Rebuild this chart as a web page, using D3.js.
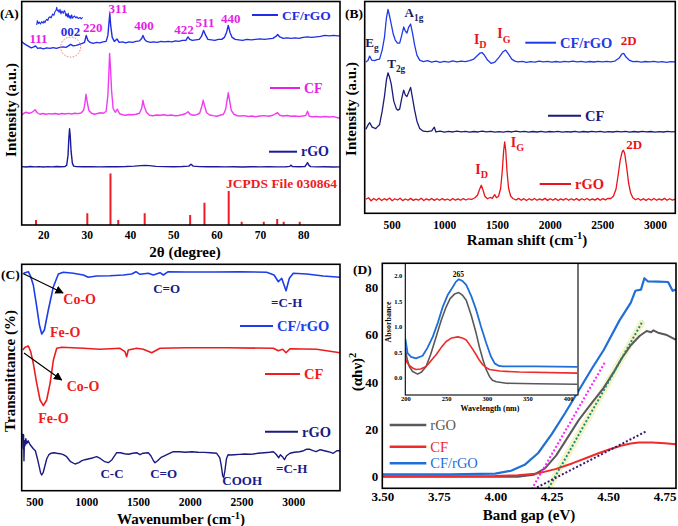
<!DOCTYPE html>
<html>
<head>
<meta charset="utf-8">
<script src="https://cdn.jsdelivr.net/npm/d3@7"></script>
<style>
  body { margin: 0; background: #fff; }
  svg { display: block; }
  text { font-family: 'Liberation Serif', 'Times New Roman', serif; font-weight: bold; }
</style>
</head>
<body>
<svg id="fig" width="678" height="526"></svg>
<script>
// ---------- (A) XRD ----------
const xrdCFrGO = [[15,184],[15.5,182],[16,180.5],[16.6,179],[17.2,177.5],[17.8,178.5],[18.2,179.5],[18.7,177],[19.3,177.5],[20,176.5],[20.8,177.5],[21.5,177],[22.3,177.8],[23,177],[23.8,178],[24.5,178.5],[25.2,178],[25.8,179.5],[26.3,181],[26.9,179.5],[27.6,180],[28.3,181],[29,182],[29.5,183],[29.9,190],[30.3,185],[30.8,183],[31.5,182],[32.3,183],[33,182.5],[33.8,183.5],[34.5,184],[34.9,190],[35.2,205],[35.35,212],[35.55,200],[35.9,188],[36.4,184],[37,186.5],[37.5,183],[38.3,183.5],[39,182.5],[39.8,183.5],[40.6,183],[41.4,184],[42.2,184.5],[42.7,187],[43,190],[43.4,186],[43.9,184],[44.7,183],[45.5,183.5],[46.3,183],[47.2,184],[48,183.5],[48.8,184],[49.7,183.5],[50.5,184.5],[51.3,184],[52.1,185],[52.9,185],[53.4,188.5],[53.8,186],[54.4,185],[55.2,185.5],[56,186],[56.5,189],[57,195],[57.5,190],[58,186],[58.8,185.5],[59.6,185],[60.4,186],[61.2,186],[61.8,188],[62.3,193],[62.7,200],[63.1,193],[63.6,188],[64.3,186],[65.1,185.5],[66,185],[67,186],[68,185.5],[69,186],[70,186.5],[71,186],[72,186.5],[73,187],[73.7,189],[74.1,191],[74.6,188.5],[75.4,187],[76.3,187.5],[77.2,187],[78.1,187.5],[79,187],[80,188],[81,188.5],[82,188],[83,188.5],[84,189],[85,190],[86,189.5],[87,190],[88,189.5],[88.5,189.5]];
const xrdCF = [[15,110],[15.5,112],[16,113],[16.6,112],[17.2,112.5],[17.7,114],[18.1,115.5],[18.6,112.5],[19.2,111],[19.9,111.8],[20.6,111],[21.3,111.6],[22,111.2],[22.8,111.8],[23.5,111],[24.3,111.7],[25,111.2],[25.8,111.9],[26.5,111.3],[27.3,112],[28,111.6],[28.7,112.2],[29.3,115],[29.6,122],[29.85,131],[30.1,124],[30.5,115],[31.1,112],[31.8,111],[32.5,111.8],[33.2,112.5],[33.9,112],[34.5,114],[34.9,130],[35.15,155],[35.3,172],[35.5,158],[35.75,135],[36.1,117],[36.6,113],[37.1,116],[37.6,111.5],[38.3,110.5],[39,110],[39.8,110.8],[40.6,110.5],[41.4,111],[42.2,112],[42.7,117],[43,125],[43.3,119],[43.8,113],[44.5,110],[45.3,109.5],[46.1,110.2],[47,110],[47.8,110.5],[48.7,109.8],[49.5,110.3],[50.4,109.5],[51.2,109.8],[52,110.5],[52.8,111.5],[53.4,113.5],[53.9,111],[54.6,110],[55.4,110.5],[56.1,112],[56.6,119],[56.9,125],[57.2,120],[57.7,112.5],[58.4,110.3],[59.2,109.6],[60,109],[60.8,110],[61.6,111],[62.1,116],[62.45,126],[62.7,132.5],[63,125],[63.4,115],[64,111],[64.8,109.5],[65.6,109.3],[66.4,109.6],[67.3,108.8],[68.2,109.2],[69,108.5],[70,109.2],[71,109.6],[72,109],[73,110],[73.6,111.5],[74.1,112.5],[74.6,110],[75.4,109.2],[76.3,109.8],[77.2,109],[78,109.3],[79,108.8],[79.9,109.2],[80.6,109.8],[81,114],[81.4,109],[82,108.5],[83,108.8],[84,108.2],[85,108.8],[86,108.3],[87,108.6],[88,107.5],[88.5,107]];
const xrdRGO = [[15,58.5],[16,58.2],[17,58.6],[18,58.3],[19,58.5],[20,58.2],[21,58.5],[22,58.3],[23,58.6],[24,58.4],[25,58.6],[25.4,60],[25.7,70],[25.9,88],[26.05,96.5],[26.2,90],[26.4,74],[26.7,62],[27,59],[27.6,58.5],[29,58.4],[31,58.5],[33,58.3],[35,58.5],[37,58.4],[39,58.6],[41,59],[42.5,59.5],[43.5,59.8],[44.5,59.5],[46,58.8],[48,58.5],[50,58.4],[52,58.6],[53.6,59],[54.1,60.8],[54.6,59],[56,58.5],[58,58.4],[60,58.5],[62,58.3],[64,58.4],[66,58.2],[68,58.4],[70,58.3],[72,58.5],[74,58.3],[76,58.4],[76.9,58.8],[77.2,60],[77.5,58.7],[79,58.4],[80.4,58.6],[80.8,61],[81,62.5],[81.3,60],[81.7,58.5],[83,58.3],[85,58.4],[87,58.2],[88.5,58.3]];
const jcpdsPos = [18.3, 30.15, 35.5, 37.3, 43.4, 53.9, 57.2, 62.8, 65.8, 70.9, 74.0, 75.5, 79.2];
const jcpdsInt = [5, 11.7, 51.7, 5, 11.7, 10, 22.3, 34, 3.3, 3.3, 6, 3.3, 3.3];
const xrdZoom = [[23.52,0],[23.59,2.4],[23.7,0.8],[23.8,1.6],[23.92,0.6],[24.05,1.85],[24.2,1.0],[24.3,2.2],[24.4,1.3],[24.5,2.6],[24.58,3.2],[24.7,2.5],[24.8,4.0],[24.94,4.6],[25.05,3.9],[25.22,6.1],[25.35,5.4],[25.47,7.4],[25.58,8.2],[25.65,9.8],[25.73,7.9],[25.82,8.3],[25.9,7.0],[26.0,8.7],[26.1,6.2],[26.2,7.8],[26.35,6.5],[26.45,8.0],[26.53,7.4],[26.62,5.0],[26.71,6.2],[26.8,4.4],[26.88,6.5],[26.97,3.9],[27.06,5.2],[27.15,3.5],[27.24,5.6],[27.33,3.8],[27.41,4.3],[27.55,5.0],[27.7,3.9],[27.78,4.6],[27.95,3.6],[28.13,4.2],[28.25,3.4],[28.41,4.3]];
const xrdTicks = [20, 30, 40, 50, 60, 70, 80];

// ---------- (B) Raman ----------
const ramanCFrGO = [[255,151],[275,152.5],[291,157],[310,153],[338,152.5],[360,153.5],[385,154],[410,163],[432,176],[450,195],[465,203.5],[480,197],[496,189],[515,179],[534,173],[555,170],[576,170],[596,178],[614,186],[630,182],[645,180],[662,186],[680,189],[698,180],[718,168],[740,158],[766,153],[800,151.5],[840,152.5],[880,151],[920,152],[960,150.8],[1000,151.8],[1040,151],[1080,152.2],[1120,151.3],[1160,152],[1200,151.5],[1240,152.5],[1280,154],[1310,157],[1340,160],[1357,160.5],[1380,158],[1410,153],[1446,149.7],[1480,151],[1520,156],[1555,161],[1582,163],[1610,159],[1640,154],[1670,152],[1699,151.3],[1740,151.8],[1780,150.8],[1820,151.5],[1860,151],[1900,152],[1940,151.2],[1980,151.8],[2020,151],[2060,151.6],[2100,150.9],[2140,151.7],[2180,151.2],[2220,152],[2260,151.3],[2300,151.8],[2340,151],[2380,151.6],[2420,151.1],[2460,151.8],[2500,151.2],[2540,151.7],[2580,151.3],[2620,152],[2660,155],[2685,159],[2703,159.7],[2725,156],[2755,153],[2790,151.5],[2830,151.8],[2870,151],[2910,151.6],[2950,151.2],[2990,151.8],[3030,151],[3070,151.5],[3110,150.8],[3150,151.5],[3193,151.3]];
const ramanCF = [[255,84],[275,88],[291,90.5],[315,86],[349,84.5],[370,87],[385,88.5],[410,102],[432,117],[450,133],[465,140.3],[480,136],[496,129],[520,112],[544,104.5],[560,103],[576,104],[596,115],[614,123],[630,118],[645,116.5],[662,121],[680,125.7],[698,115],[718,103],[740,92],[766,84.7],[800,82],[840,81.5],[880,82.3],[905,86],[920,81.2],[960,82],[1000,81],[1040,81.8],[1080,81.2],[1120,82],[1160,81.3],[1200,81.9],[1240,81],[1280,81.7],[1320,81.2],[1360,82],[1400,81.3],[1440,81.8],[1480,81],[1520,81.6],[1560,81.1],[1600,81.8],[1640,81.2],[1680,82],[1720,81.3],[1760,81.8],[1800,81],[1840,81.7],[1880,81.2],[1920,81.9],[1960,81.1],[2000,81.7],[2040,81.3],[2080,81.9],[2120,81],[2160,81.6],[2200,81.2],[2240,81.8],[2280,81.1],[2320,81.7],[2360,81.2],[2400,81.9],[2440,81.3],[2480,81.8],[2520,81],[2560,81.6],[2600,81.2],[2640,81.9],[2680,81.3],[2720,81.8],[2760,81.1],[2800,81.7],[2840,81.2],[2880,81.9],[2920,81.3],[2960,81.7],[3000,81],[3040,81.6],[3080,81.2],[3120,81.8],[3160,81.4],[3193,81.6]];
const ramanRGO = [[255,14],[280,15.5],[305,12.5],[330,14.8],[355,13],[380,15],[405,12.8],[430,14.6],[455,13.2],[480,15.2],[505,12.6],[530,14.5],[555,13.3],[580,15],[605,12.7],[630,14.3],[655,13],[680,14.9],[705,12.9],[730,14.2],[755,13.1],[780,15],[805,12.8],[830,14.4],[855,13.2],[880,14.8],[905,12.9],[930,14.5],[955,13],[980,14.7],[1005,13.2],[1030,14.3],[1055,12.8],[1080,14.8],[1105,13.1],[1130,14.4],[1155,13],[1180,14.7],[1205,13.3],[1230,14.5],[1260,13.8],[1290,15.5],[1315,18],[1335,24],[1351,28],[1365,24],[1385,17],[1410,14.5],[1435,15.8],[1455,15],[1478,18.7],[1495,15.5],[1515,17],[1535,25],[1550,42],[1563,62],[1573,71.3],[1583,63],[1595,42],[1610,25],[1630,17],[1655,14.5],[1680,13.3],[1705,14.9],[1730,13],[1755,14.6],[1780,12.8],[1805,14.5],[1830,13.1],[1855,14.8],[1880,13],[1905,14.4],[1930,13.2],[1955,14.9],[1980,12.9],[2005,14.5],[2030,13.1],[2055,14.7],[2080,12.8],[2105,14.4],[2130,13.2],[2155,14.8],[2180,13],[2205,14.5],[2230,13.1],[2255,14.7],[2280,12.9],[2305,14.5],[2330,13.3],[2355,14.8],[2380,13],[2405,14.4],[2430,13.2],[2455,14.9],[2480,13],[2505,14.6],[2530,13.4],[2555,15],[2580,14.8],[2605,17],[2630,24],[2650,38],[2670,53],[2688,61],[2700,63],[2712,60],[2730,47],[2750,30],[2770,20],[2790,15.5],[2815,13.5],[2840,14.8],[2865,13],[2890,14.6],[2915,12.9],[2940,14.5],[2965,13.1],[2990,14.8],[3015,13],[3040,14.4],[3065,13.2],[3090,14.9],[3115,13],[3140,14.5],[3165,13.2],[3193,14.2]];
const ramanTicks = [500, 1000, 1500, 2000, 2500, 3000];

// ---------- (C) FTIR ----------
const ftirCFrGO = [[388,216.7],[410,218],[442,219],[465,214],[490,205.7],[523,184],[549,165.7],[571,156.7],[597,160.7],[635,180.7],[684,204],[732,216.7],[780,218.4],[877,217.4],[973,215.7],[1021,213.4],[1102,214.7],[1230,215],[1359,215.7],[1440,216.7],[1481,219],[1520,216.4],[1600,217.4],[1649,215.7],[1713,218],[1745,215.7],[1793,219],[1970,218.7],[2228,218.7],[2485,219],[2743,218.4],[2814,215.7],[2856,209],[2888,212.4],[2930,200],[2962,212.4],[3000,217.4],[3129,216.7],[3290,214.7],[3451,213.4]];
const ftirCF = [[388,140.7],[410,143.4],[442,144.7],[465,139],[490,127.4],[523,107.4],[555,90.7],[587,85],[619,90.7],[652,107.4],[684,130.7],[716,142.4],[764,143.4],[973,142.4],[1134,141.4],[1327,142.4],[1375,139],[1391,134],[1407,140.7],[1488,142.4],[1552,141.4],[1633,138],[1713,142.4],[1970,143],[2356,143],[2807,142.4],[2856,140],[2898,141.4],[2930,138],[2968,142],[3225,141.4],[3451,138]];
const ftirRGO = [[388,57],[392,42],[396,56],[400,30],[404,50],[410,45],[418,52],[426,47],[440,50],[460,46],[475,44],[490,42],[510,40],[530,32],[545,25],[560,18],[571,15.7],[585,18],[600,24],[620,32],[640,36],[660,37.4],[690,38],[716,37.5],[750,37],[780,36],[812,34],[850,29],[893,26.7],[930,28],[960,30],[989,31],[1030,32],[1070,33],[1102,34],[1140,32],[1180,29],[1214,28],[1250,31],[1295,38],[1330,38],[1370,37],[1410,36.5],[1450,37.5],[1488,38],[1520,36],[1550,37.5],[1600,38],[1625,35],[1650,30],[1665,28],[1690,30],[1720,33],[1760,35],[1800,37],[1842,39],[1900,39],[1960,38.5],[2020,39],[2080,38.5],[2140,38.3],[2200,38],[2260,37.4],[2290,33],[2305,25],[2318,15],[2328,13],[2340,20],[2355,32],[2370,36],[2389,35.7],[2430,36],[2480,36.3],[2530,36.7],[2580,36.5],[2614,36.7],[2660,37.5],[2720,38],[2770,38.5],[2807,39],[2830,37],[2845,35],[2860,33],[2875,36],[2895,34],[2915,31],[2935,35],[2968,37.4],[3010,38.5],[3060,39],[3100,40],[3130,41.5],[3161,41.4],[3190,40],[3220,39],[3260,41],[3300,40],[3340,39],[3386,37.4],[3420,40],[3451,40]];
const ftirTicks = [500, 1000, 1500, 2000, 2500, 3000];

// ---------- (D) Tauc plot + UV-vis inset ----------
const taucCFrGO = [[3.5,1.0],[3.8,1.0],[4.0,1.3],[4.07,2.5],[4.13,5],[4.19,10],[4.25,18],[4.31,27],[4.37,36.5],[4.43,46],[4.48,53.5],[4.55,66],[4.6,73.5],[4.62,78.5],[4.645,79],[4.66,83.8],[4.675,82.5],[4.72,82.4],[4.765,82.2],[4.785,78.5],[4.8,79]];
const taucRGO = [[3.5,0],[4.1,0],[4.17,0.8],[4.22,3.5],[4.27,9],[4.32,16.5],[4.37,24],[4.43,31.5],[4.48,37.5],[4.53,45],[4.56,50],[4.6,55.5],[4.64,59.5],[4.67,61.5],[4.69,61],[4.7,61.8],[4.72,60.8],[4.76,59.8],[4.8,57.8]];
const taucCF = [[3.5,0.2],[4.0,0.3],[4.1,0.6],[4.19,1.4],[4.27,3.3],[4.34,5.6],[4.4,7.8],[4.457,9.9],[4.51,11.7],[4.56,13.2],[4.6,14],[4.635,14.4],[4.694,14.4],[4.75,14.1],[4.8,13.7]];
const fitCFrGO = [[4.161,-5.3],[4.487,48.6]];
const fitRGO = [[4.236,-4.9],[4.653,65.8]];
const fitCF = [[4.169,-5.3],[4.665,19]];
const taucXTicks = [3.5, 3.75, 4.0, 4.25, 4.5, 4.75];
const taucYTicks = [0, 20, 40, 60, 80];
const uvCFrGO = [[200,0.77],[202.8,0.48],[207,0.41],[213,0.38],[221.3,0.43],[227,0.58],[233.7,0.80],[240,1.08],[246,1.39],[252,1.62],[258.3,1.78],[262,1.88],[265.7,1.93],[270,1.9],[274.8,1.82],[281,1.6],[287,1.33],[293,1.0],[299.5,0.67],[305,0.42],[309.7,0.28],[315,0.23],[320,0.22],[360,0.22],[411,0.21]];
const uvRGO = [[200,0.58],[202,0.38],[204.9,0.22],[209,0.12],[215.2,0.07],[220,0.11],[225.5,0.22],[231,0.45],[237.8,0.80],[244,1.12],[250.2,1.39],[255,1.55],[260.4,1.64],[265.7,1.67],[270,1.62],[274.8,1.52],[281,1.22],[287,0.87],[291,0.6],[295.3,0.35],[299,0.17],[303.5,0.02],[307,-0.05],[311.7,-0.08],[324,-0.11],[360,-0.12],[411,-0.13]];
const uvCF = [[200,0.38],[202,0.3],[204.9,0.24],[209,0.19],[213,0.16],[219,0.17],[225.5,0.22],[231,0.32],[237.8,0.45],[244,0.59],[250.2,0.71],[257,0.78],[264.5,0.80],[270,0.78],[274.8,0.74],[281,0.6],[287,0.45],[291,0.34],[295.3,0.25],[299,0.2],[303.5,0.16],[315.8,0.13],[340,0.11],[411,0.09]];
const uvXTicks = [200, 250, 300, 350, 400];
const uvYTicks = [0, 0.5, 1.0, 1.5, 2.0];

const svg = d3.select('#fig');
svg.append('rect').attr('width', 678).attr('height', 526).attr('fill', '#fff');

const defs = svg.append('defs');
defs.append('marker').attr('id', 'arrow').attr('viewBox', '0 0 10 10').attr('refX', 9).attr('refY', 5)
  .attr('markerWidth', 7).attr('markerHeight', 7).attr('orient', 'auto-start-reverse')
  .append('path').attr('d', 'M0,0 L10,5 L0,10 z').attr('fill', '#000');

let clipN = 0;
function panel(x, y) {
  const [x0, x1] = x.range(), [y1, y0] = y.range();
  const id = 'clip' + (clipN++);
  defs.append('clipPath').attr('id', id).append('rect')
    .attr('x', x0).attr('y', y0).attr('width', x1 - x0).attr('height', y1 - y0);
  const g = svg.append('g');
  const inner = g.append('g').attr('clip-path', `url(#${id})`);
  return {g, inner, box: () => g.append('rect').attr('x', x0).attr('y', y0)
    .attr('width', x1 - x0).attr('height', y1 - y0)
    .attr('fill', 'none').attr('stroke', '#000').attr('stroke-width', 1.6)};
}

function trace(g, x, y, data, color, w, dash) {
  g.append('path').datum(data)
    .attr('fill', 'none').attr('stroke', color).attr('stroke-width', w)
    .attr('stroke-linejoin', 'round').attr('stroke-dasharray', dash || null)
    .attr('d', d3.line().x(d => x(d[0])).y(d => y(d[1])));
}

function txt(g, x, y, s, size, color, anchor) {
  return g.append('text').attr('x', x).attr('y', y).attr('font-size', size)
    .attr('fill', color || '#000').attr('text-anchor', anchor || 'start').text(s);
}

// text with subscript, e.g. I_D
function sub(g, x, y, main, s, size, color) {
  const t = g.append('text').attr('x', x).attr('y', y).attr('font-size', size).attr('fill', color);
  t.append('tspan').text(main);
  t.append('tspan').attr('dy', size * 0.3).attr('font-size', size * 0.72).text(s);
  return t;
}

function legend(g, x0, x1, y, label, color, size, weight, w) {
  g.append('line').attr('x1', x0).attr('x2', x1).attr('y1', y).attr('y2', y)
    .attr('stroke', color).attr('stroke-width', w || 2);
  txt(g, x1 + 4, y + size * 0.34, label, size, color).style('font-weight', weight || 'bold');
}

function bottomAxis(g, x, y, ticks, fmt, pad, size) {
  const ax = g.append('g').attr('transform', `translate(0,${y.range()[0]})`)
    .call(d3.axisBottom(x).tickValues(ticks).tickFormat(fmt).tickSize(0).tickPadding(pad));
  ax.select('.domain').remove();
  ax.selectAll('text').attr('font-size', size).attr('fill', '#000')
    .attr('font-family', "'Liberation Serif', serif").attr('font-weight', 'bold');
  return ax;
}

// ================= (A) =================
{
  const x = d3.scaleLinear().domain([15, 88.5]).range([21.7, 340]);
  const y = d3.scaleLinear().domain([0, 224]).range([225, 1.5]);
  const p = panel(x, y);
  trace(p.inner, x, y, xrdCFrGO, '#1f2ee6', 1.4);
  trace(p.inner, x, y, xrdCF, '#f03cf0', 1.4);
  trace(p.inner, x, y, xrdRGO, '#1a1a9a', 1.4);
  p.inner.selectAll('.stick').data(jcpdsPos).join('line')
    .attr('x1', d => x(d)).attr('x2', d => x(d))
    .attr('y1', y(0)).attr('y2', (d, i) => y(jcpdsInt[i]))
    .attr('stroke', '#ee1c24').attr('stroke-width', 2);
  // zoomed 002 region
  const xi = d3.scaleLinear().domain([23.5, 28.5]).range([36.5, 83.5]);
  const yi = d3.scaleLinear().domain([0, 10]).range([25, 7]);
  trace(p.inner, xi, yi, xrdZoom, '#1f2ee6', 1.1);
  p.inner.append('circle').attr('cx', x(26.3)).attr('cy', y(178.3)).attr('r', 10)
    .attr('fill', 'none').attr('stroke', '#f07070').attr('stroke-width', 1)
    .attr('stroke-dasharray', '1.5,1.5');
  p.box();
  bottomAxis(p.g, x, y, xrdTicks, d3.format('d'), 6, 11.5);
  const mag = '#e61ee6';
  txt(p.g, 38.5, 42.5, '111', 13, mag, 'middle');
  txt(p.g, 70.5, 36, '002', 13, '#1f2ee6', 'middle');
  txt(p.g, 92.8, 32, '220', 13, mag, 'middle');
  txt(p.g, 118, 12.7, '311', 13, mag, 'middle');
  txt(p.g, 144, 30, '400', 13, mag, 'middle');
  txt(p.g, 184, 34, '422', 13, mag, 'middle');
  txt(p.g, 205, 27.3, '511', 13, mag, 'middle');
  txt(p.g, 230.8, 23.3, '440', 13, mag, 'middle');
  legend(p.g, 252, 278, 15, 'CF/rGO', '#1f2ee6', 13.5);
  legend(p.g, 270, 300, 88, 'CF', mag, 14);
  legend(p.g, 269, 297, 151.7, 'rGO', '#1a1a9a', 14);
  txt(p.g, 337, 188, 'JCPDS File 030864', 13.5, '#ee1c24', 'end');
  txt(p.g, 0, 18, '(A)', 13.5, '#000');
  txt(p.g, 185, 257, '2θ (degree)', 15, '#000', 'middle');
  txt(p.g, 0, 0, 'Intensity (a.u.)', 15, '#000', 'middle')
    .attr('transform', 'translate(16,110) rotate(-90)');
}

// ================= (B) =================
{
  const x = d3.scaleLinear().domain([244, 3193]).range([364.7, 675.3]);
  const y = d3.scaleLinear().domain([0, 211.5]).range([213.3, 1.5]);
  const p = panel(x, y);
  trace(p.inner, x, y, ramanCFrGO, '#1f3ae8', 1.3);
  trace(p.inner, x, y, ramanCF, '#1b1b7a', 1.3);
  trace(p.inner, x, y, ramanRGO, '#e8141a', 1.3);
  p.box();
  bottomAxis(p.g, x, y, ramanTicks, d3.format('d'), 8, 11.5);
  const nav = '#1a1a5e', red = '#e8141a';
  sub(p.g, x(249), y(166.3), 'E', 'g', 13, nav);
  sub(p.g, x(623), y(196.3), 'A', '1g', 13, nav);
  sub(p.g, x(458), y(144.7), 'T', '2g', 13, nav);
  sub(p.g, x(1281), y(169), 'I', 'D', 14, red);
  sub(p.g, x(1503), y(174.7), 'I', 'G', 14, red);
  txt(p.g, x(2674), y(168), '2D', 13, red);
  sub(p.g, x(1294), y(39.7), 'I', 'D', 14, red);
  sub(p.g, x(1630), y(66.3), 'I', 'G', 14, red);
  txt(p.g, x(2727), y(64.7), '2D', 13, red);
  legend(p.g, 525.3, 556, 42.7, 'CF/rGO', '#1f3ae8', 14.5);
  legend(p.g, 548, 581, 115.7, 'CF', '#1b1b7a', 14.5);
  legend(p.g, 539.7, 571, 184, 'rGO', red, 14.5);
  txt(p.g, 345, 18, '(B)', 13.5, '#000');
  const t = p.g.append('text').attr('x', 527).attr('y', 245).attr('font-size', 15).attr('text-anchor', 'middle');
  t.append('tspan').text('Raman shift (cm');
  t.append('tspan').attr('dy', -6).attr('font-size', 10.5).text('-1');
  t.append('tspan').attr('dy', 6).text(')');
  txt(p.g, 0, 0, 'Intensity (a.u.)', 15, '#000', 'middle')
    .attr('transform', 'translate(356,109) rotate(-90)');
}

// ================= (C) =================
{
  const x = d3.scaleLinear().domain([378, 3451]).range([21.7, 340]);
  const y = d3.scaleLinear().domain([0, 226.4]).range([490.7, 264.3]);
  const p = panel(x, y);
  trace(p.inner, x, y, ftirCFrGO, '#1c3de8', 1.6);
  trace(p.inner, x, y, ftirCF, '#ee1c1c', 1.6);
  trace(p.inner, x, y, ftirRGO, '#1a1a80', 1.4);
  p.box();
  bottomAxis(p.g, x, y, ftirTicks, d3.format('d'), 7, 11.5);
  p.g.append('line').attr('x1', x(400)).attr('y1', y(216.7)).attr('x2', x(777)).attr('y2', y(197.7))
    .attr('stroke', '#000').attr('stroke-width', 1.2).attr('marker-end', 'url(#arrow)');
  p.g.append('line').attr('x1', x(400)).attr('y1', y(137.7)).attr('x2', x(764)).attr('y2', y(110.7))
    .attr('stroke', '#000').attr('stroke-width', 1.2).attr('marker-end', 'url(#arrow)');
  const red = '#ee1c1c', nav = '#1a1a8c';
  txt(p.g, 63.3, 304.3, 'Co-O', 14, red);
  txt(p.g, 50, 336.7, 'Fe-O', 14, red);
  txt(p.g, 66.7, 390.7, 'Co-O', 14, red);
  txt(p.g, 38.3, 422.7, 'Fe-O', 14, red);
  txt(p.g, 166.7, 293.3, 'C=O', 13, nav, 'middle');
  txt(p.g, 286.7, 306.7, '=C-H', 13, nav, 'middle');
  txt(p.g, 112, 478.3, 'C-C', 13, nav, 'middle');
  txt(p.g, 163.7, 478.3, 'C=O', 13, nav, 'middle');
  txt(p.g, 242.2, 485, 'COOH', 13, nav, 'middle');
  txt(p.g, 291.7, 473.3, '=C-H', 13, nav, 'middle');
  legend(p.g, 240, 273, 326, 'CF/rGO', '#1c3de8', 14.5);
  legend(p.g, 265, 300, 374, 'CF', red, 14.5);
  legend(p.g, 265, 298, 431.7, 'rGO', '#1a1a80', 14.5);
  txt(p.g, 1, 279, '(C)', 13.5, '#000');
  const t = p.g.append('text').attr('x', 181).attr('y', 523.5).attr('font-size', 15).attr('text-anchor', 'middle');
  t.append('tspan').text('Wavenumber (cm');
  t.append('tspan').attr('dy', -5).attr('font-size', 10.5).text('-1');
  t.append('tspan').attr('dy', 5).text(')');
  txt(p.g, 0, 0, 'Transmittance (%)', 15, '#000', 'middle')
    .attr('transform', 'translate(15,371) rotate(-90)');
}

// ================= (D) =================
{
  const x = d3.scaleLinear().domain([3.5, 4.8]).range([382.3, 676]);
  const y = d3.scaleLinear().domain([-4.9, 90.1]).range([488.3, 263.3]);
  const p = panel(x, y);
  trace(p.inner, x, y, fitRGO, '#f4f4c8', 7);
  trace(p.inner, x, y, taucRGO, '#595959', 2);
  trace(p.inner, x, y, taucCF, '#ee2a2a', 2);
  trace(p.inner, x, y, taucCFrGO, '#1f6fd6', 2.2);
  trace(p.inner, x, y, fitCFrGO, '#ff22ff', 2, '2,2');
  trace(p.inner, x, y, fitRGO, '#1a8a7a', 2, '2,2');
  trace(p.inner, x, y, fitCF, '#3a1a6e', 2, '2,2');
  p.box();
  bottomAxis(p.g, x, y, taucXTicks, d3.format('.2f'), 3, 13);
  const ay = p.g.append('g').attr('transform', `translate(${x.range()[0]},0)`)
    .call(d3.axisLeft(y).tickValues(taucYTicks).tickSize(0).tickPadding(4));
  ay.select('.domain').remove();
  ay.selectAll('text').attr('font-size', 13).attr('fill', '#000')
    .attr('font-family', "'Liberation Serif', serif").attr('font-weight', 'bold');
  legend(p.g, 389.7, 426.3, 425, 'rGO', '#595959', 14.5, 'normal', 2.5);
  legend(p.g, 389.7, 426.3, 446.7, 'CF', '#ee2a2a', 14.5, 'normal', 2.5);
  legend(p.g, 389.7, 426.3, 463.3, 'CF/rGO', '#1f6fd6', 14.5, 'normal', 2.5);
  txt(p.g, 353, 274, '(D)', 13.5, '#000');
  txt(p.g, 529, 520, 'Band gap (eV)', 15, '#000', 'middle');
  const t = p.g.append('text').attr('font-size', 15).attr('text-anchor', 'middle')
    .attr('transform', 'translate(362,372) rotate(-90)');
  t.append('tspan').text('(αhν)');
  t.append('tspan').attr('dy', -6).attr('font-size', 10.5).text('2');

  // inset: UV-vis absorbance
  const xi = d3.scaleLinear().domain([200, 412]).range([405.3, 578]);
  const yi = d3.scaleLinear().domain([-0.34, 2.24]).range([395, 263.5]);
  p.g.append('rect').attr('x', 405.3).attr('y', 263.5).attr('width', 578 - 405.3).attr('height', 395 - 263.5)
    .attr('fill', '#fff');
  const pi = panel(xi, yi);
  trace(pi.inner, xi, yi, uvRGO, '#595959', 1.6);
  trace(pi.inner, xi, yi, uvCF, '#ee2a2a', 1.6);
  trace(pi.inner, xi, yi, uvCFrGO, '#1f6fd6', 1.8);
  pi.box().attr('stroke-width', 1.1);
  bottomAxis(pi.g, xi, yi, uvXTicks, d3.format('d'), 1.5, 6.5);
  const ayi = pi.g.append('g').attr('transform', `translate(${xi.range()[0]},0)`)
    .call(d3.axisLeft(yi).tickValues(uvYTicks).tickFormat(d3.format('.1f')).tickSize(0).tickPadding(3));
  ayi.select('.domain').remove();
  ayi.selectAll('text').attr('font-size', 6.5).attr('fill', '#000')
    .attr('font-family', "'Liberation Serif', serif").attr('font-weight', 'bold');
  txt(pi.g, xi(265), 277, '265', 7.5, '#000', 'middle');
  txt(pi.g, 490, 411, 'Wavelength (nm)', 8, '#000', 'middle');
  txt(pi.g, 0, 0, 'Absorbance', 8, '#000', 'middle')
    .attr('transform', 'translate(391,322) rotate(-90)');
}
</script>
</body>
</html>
